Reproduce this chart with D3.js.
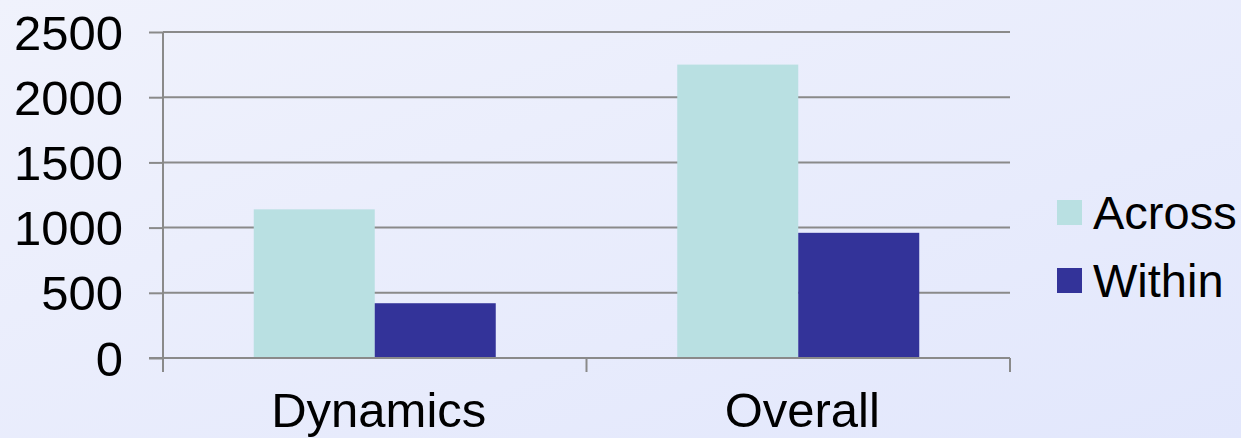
<!DOCTYPE html>
<html>
<head>
<meta charset="utf-8">
<script src="https://cdn.jsdelivr.net/npm/d3@7"></script>
<style>
  html, body { margin: 0; padding: 0; }
  svg { display: block; }
  text { font-family: "Liberation Sans", Arial, sans-serif; fill: #000; }
</style>
</head>
<body>
<svg id="chart" width="1241" height="438"></svg>
<script>
const categories = ["Dynamics", "Overall"];
const seriesNames = ["Across", "Within"];
const acrossValues = [1140, 2250];
const withinValues = [420, 960];
const yTicks = [0, 500, 1000, 1500, 2000, 2500];
const seriesColors = ["#b9e0e2", "#333399"];

const W = 1241, H = 438;
const margin = { left: 163, right: 231, top: 32, bottom: 80 };
const svg = d3.select("#chart");

// background gradient
const defs = svg.append("defs");
const grad = defs.append("linearGradient").attr("id", "bg")
  .attr("x1", "0").attr("y1", "0").attr("x2", "1").attr("y2", "1");
grad.append("stop").attr("offset", "0").attr("stop-color", "#f0f2fc");
grad.append("stop").attr("offset", "1").attr("stop-color", "#e2e7fc");
svg.append("rect").attr("width", W).attr("height", H).attr("fill", "url(#bg)");

const x0 = d3.scaleBand().domain(categories)
  .range([margin.left, W - margin.right]).paddingInner(0).paddingOuter(0);
const x1 = d3.scaleBand().domain(seriesNames)
  .range([0, x0.bandwidth()]).paddingInner(0).paddingOuter(0.75);
const y = d3.scaleLinear().domain([0, 2500]).range([H - margin.bottom, margin.top]);

const data = categories.map((c, i) => ({
  cat: c,
  vals: [{ s: "Across", v: acrossValues[i] }, { s: "Within", v: withinValues[i] }]
}));

// gridlines + y axis
const yAxis = d3.axisLeft(y).tickValues(yTicks).tickSize(14).tickPadding(26).tickFormat(d3.format("d"));
const gy = svg.append("g").attr("transform", `translate(${margin.left},0)`).call(yAxis);
gy.select(".domain").remove();
gy.selectAll(".tick line").attr("stroke", "#8a8a8a").attr("stroke-width", 2);
gy.selectAll(".tick text").attr("font-size", 49).attr("fill", "#000").attr("dy", "0.35em");

svg.append("g").selectAll("line.grid").data(yTicks.filter(d => d > 0)).join("line")
  .attr("x1", margin.left).attr("x2", W - margin.right)
  .attr("y1", d => y(d)).attr("y2", d => y(d))
  .attr("stroke", "#8a8a8a").attr("stroke-width", 2);

// bars
const groups = svg.append("g").selectAll("g").data(data).join("g")
  .attr("transform", d => `translate(${x0(d.cat)},0)`);
groups.selectAll("rect").data(d => d.vals).join("rect")
  .attr("x", d => x1(d.s)).attr("width", x1.bandwidth())
  .attr("y", d => y(d.v)).attr("height", d => y(0) - y(d.v))
  .attr("fill", (d, i) => seriesColors[i]);

// y axis line
svg.append("line").attr("x1", margin.left).attr("x2", margin.left)
  .attr("y1", y(2500)).attr("y2", y(0))
  .attr("stroke", "#8a8a8a").attr("stroke-width", 2);

// x axis
svg.append("line").attr("x1", margin.left - 14).attr("x2", W - margin.right)
  .attr("y1", y(0)).attr("y2", y(0))
  .attr("stroke", "#8a8a8a").attr("stroke-width", 2);
const catBounds = [margin.left, ...categories.map(c => x0(c) + x0.bandwidth())];
svg.append("g").selectAll("line").data(catBounds).join("line")
  .attr("x1", d => d).attr("x2", d => d)
  .attr("y1", y(0)).attr("y2", y(0) + 14)
  .attr("stroke", "#8a8a8a").attr("stroke-width", 2);
svg.append("g").selectAll("text").data(categories).join("text")
  .attr("x", d => x0(d) + x0.bandwidth() / 2 + 4)
  .attr("y", 427)
  .attr("text-anchor", "middle").attr("font-size", 49)
  .text(d => d);

// legend
const lg = svg.append("g").selectAll("g").data(seriesNames).join("g")
  .attr("transform", (d, i) => `translate(1057,${200 + i * 68})`);
lg.append("rect").attr("width", 25).attr("height", 25)
  .attr("fill", (d, i) => seriesColors[i]);
lg.append("text").attr("x", 36).attr("y", 12.5).attr("dy", "0.35em")
  .attr("font-size", 47).text(d => d);
</script>
</body>
</html>
